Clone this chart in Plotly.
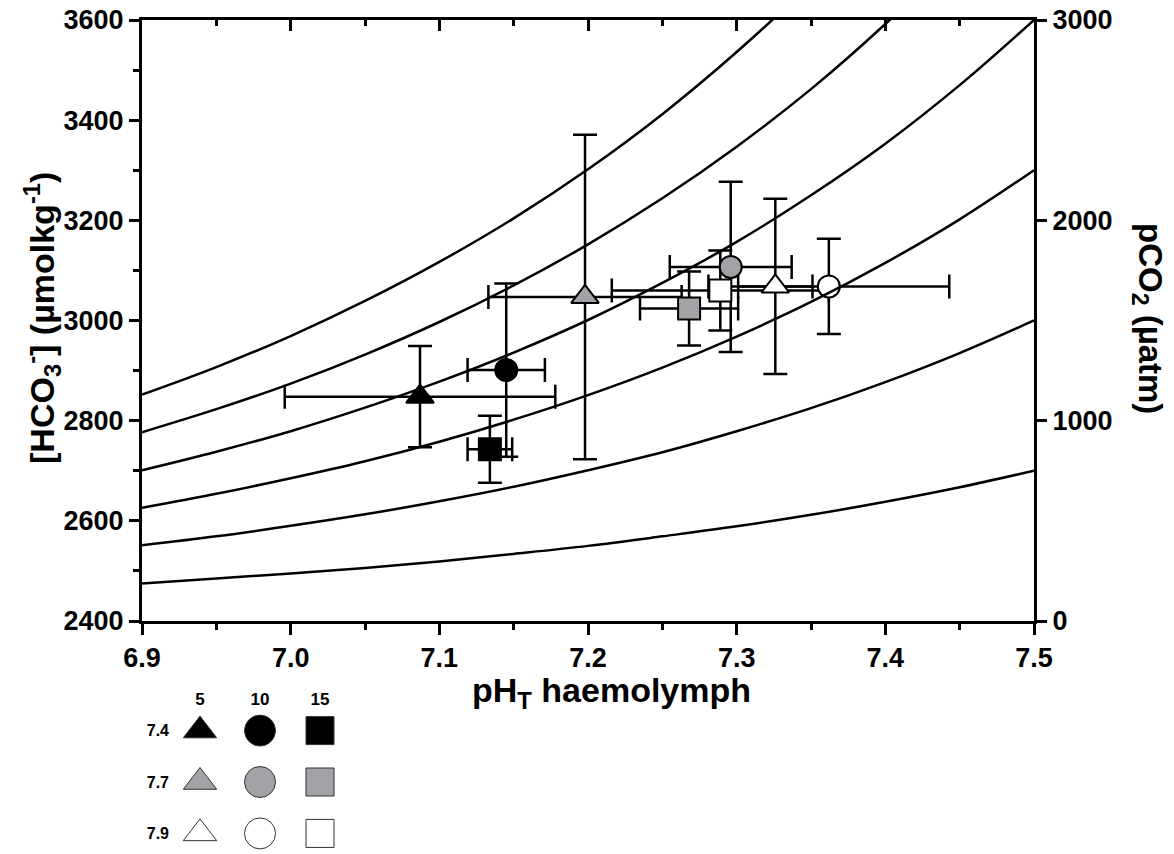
import plotly.graph_objects as go

# ---------------- data ----------------
# pCO2 isopleth curves: [HCO3-] read along the pH axis
curve_ph = [6.90, 6.95, 7.00, 7.05, 7.10, 7.15, 7.20, 7.25, 7.30, 7.35, 7.40, 7.45, 7.50]
curve_1 = [2475, 2485, 2495, 2506, 2519, 2534, 2550, 2569, 2589, 2612, 2638, 2667, 2700]
curve_2 = [2551, 2569, 2590, 2613, 2639, 2668, 2701, 2737, 2779, 2825, 2877, 2935, 3000]
curve_3 = [2626, 2654, 2685, 2719, 2758, 2802, 2851, 2906, 2968, 3037, 3115, 3202, 3300]
curve_4 = [2701, 2738, 2779, 2826, 2878, 2936, 3001, 3075, 3157, 3250, 3353, 3470, 3600]
curve_5 = [2777, 2823, 2874, 2932, 2997, 3070, 3152, 3244, 3347, 3462, 3592, 3737, 3900]
curve_6 = [2852, 2907, 2969, 3039, 3117, 3204, 3302, 3412, 3536, 3674, 3830, 4004, 4200]
curves = [curve_1, curve_2, curve_3, curve_4, curve_5, curve_6]

# treatments (seawater pH) x temperature
treatment_ph = ["7.4", "7.7", "7.9"]
temperature = ["5", "10", "15"]

ph_haem = [[7.087, 7.145, 7.134],
           [7.198, 7.296, 7.268],
           [7.326, 7.362, 7.289]]
ph_err = [[0.091, 0.026, 0.015],
          [0.065, 0.041, 0.033],
          [0.025, 0.081, 0.073]]
hco3 = [[2848, 2901, 2743],
        [3047, 3107, 3024],
        [3068, 3068, 3060]]
hco3_err = [[101, 173, 67],
            [324, 170, 74],
            [175, 95, 80]]

# ---------------- style / layout helpers ----------------
W, H = 1174, 854


def fx(px):
    return min(1.0, max(0.0, px / W))


def fy(py):
    return min(1.0, max(0.0, 1 - py / H))


fill_colors = ["#000000", "#a3a3a7", "#ffffff"]
symbols = ["triangle-up", "circle", "square"]
sizes = [24, 22, 22]
legend_sizes = [29, 31, 28]
FONT = "Liberation Sans, Arial, sans-serif"

# plot area in screen pixels
px_l, px_r, px_t, px_b = 142, 1034, 20, 621
xdom = [fx(px_l), fx(px_r)]
ydom = [fy(px_b), fy(px_t)]

fig = go.Figure()

# isopleths drawn on the (top) x2 axis, which shares the x range
for c in curves:
    fig.add_trace(go.Scatter(x=curve_ph, y=c, mode="lines", xaxis="x2", yaxis="y",
                             line=dict(color="black", width=2.5, shape="spline"),
                             hoverinfo="skip", showlegend=False))

# error bars first (below all markers)
for i in range(len(treatment_ph)):
    fig.add_trace(go.Scatter(
        x=ph_haem[i], y=hco3[i], mode="markers",
        marker=dict(size=2, opacity=0),
        error_x=dict(type="data", array=ph_err[i], color="black", thickness=2.5, width=12),
        error_y=dict(type="data", array=hco3_err[i], color="black", thickness=2.5, width=12),
        hoverinfo="skip", showlegend=False))

for i in range(len(treatment_ph)):
    fig.add_trace(go.Scatter(
        x=ph_haem[i], y=hco3[i], mode="markers",
        marker=dict(symbol=symbols, size=sizes, color=fill_colors[i], opacity=1,
                    line=dict(color="black", width=2)),
        name="pH " + treatment_ph[i], showlegend=False))

# secondary y axis (empty trace so the axis is drawn)
fig.add_trace(go.Scatter(x=[], y=[], xaxis="x", yaxis="y2", showlegend=False))

# legend grid
for i, t in enumerate(treatment_ph):
    fig.add_trace(go.Scatter(
        x=temperature, y=[t] * len(temperature), mode="markers",
        xaxis="x3", yaxis="y3",
        marker=dict(symbol=symbols, size=legend_sizes, color=fill_colors[i], opacity=1,
                    line=dict(color="#333333", width=1)),
        hoverinfo="skip", showlegend=False))

tick_font = dict(family=FONT, size=27, color="black", weight="bold")
title_font = dict(family=FONT, size=34, color="black", weight="bold")
axis_common = dict(showgrid=False, zeroline=False, showline=True, linecolor="black",
                   linewidth=3, tickcolor="black", tickwidth=3, automargin=False,
                   ticklabeloverflow="allow")

fig.update_layout(
    template="none",
    width=W, height=H,
    margin=dict(l=0, r=0, t=0, b=0, autoexpand=False),
    paper_bgcolor="white", plot_bgcolor="white",
    xaxis=dict(domain=xdom, range=[6.9, 7.5], anchor="y", tick0=6.9, dtick=0.1,
               tickformat=".1f", ticks="outside", ticklen=11, tickfont=tick_font,
               minor=dict(dtick=0.05, ticks="outside", ticklen=6, tickwidth=3, tickcolor="black"),
               **axis_common),
    xaxis2=dict(overlaying="x", side="top", anchor="y", range=[6.9, 7.5], tick0=6.9, dtick=0.1,
                ticks="inside", ticklen=11, showticklabels=False,
                minor=dict(dtick=0.05, ticks="inside", ticklen=6, tickwidth=3, tickcolor="black"),
                **axis_common),
    yaxis=dict(domain=ydom, range=[2400, 3600], anchor="x", dtick=200,
               ticks="outside", ticklen=10, tickfont=tick_font,
               minor=dict(dtick=100, ticks="outside", ticklen=6, tickwidth=3, tickcolor="black"),
               **axis_common),
    yaxis2=dict(overlaying="y", side="right", anchor="x", range=[0, 3000], dtick=1000,
                ticks="outside", ticklen=10, tickfont=tick_font, **axis_common),
    xaxis3=dict(domain=[fx(170), fx(350)], anchor="y3", type="category",
                categoryorder="array", categoryarray=temperature, range=[-0.5, 2.5],
                side="top", showline=False, showgrid=False, zeroline=False, ticks="",
                automargin=False,
                tickfont=dict(family=FONT, size=17, color="black", weight="bold")),
    yaxis3=dict(domain=[fy(854), fy(709)], anchor="x3", type="category",
                categoryorder="array", categoryarray=treatment_ph, range=[2.40, -0.42],
                showline=False, showgrid=False, zeroline=False, ticks="",
                automargin=False,
                tickfont=dict(family=FONT, size=16, color="black", weight="bold")),
    annotations=[
        dict(text="pH<sub>T</sub> haemolymph", xref="paper", yref="paper",
             x=fx(611), y=fy(692), xanchor="center", yanchor="middle",
             showarrow=False, font=title_font),
        dict(text="[HCO<sub>3</sub><sup>-</sup>] (µmolkg<sup>-1</sup>)", xref="paper", yref="paper",
             x=fx(42), y=fy(318), xanchor="center", yanchor="middle", textangle=-90,
             showarrow=False, font=title_font),
        dict(text="pCO<sub>2</sub> (µatm)", xref="paper", yref="paper",
             x=fx(1148), y=fy(318), xanchor="center", yanchor="middle", textangle=90,
             showarrow=False, font=dict(family=FONT, size=33, color="black", weight="bold")),
    ],
)

fig.write_html("out.html",
               config=dict(displayModeBar=False),
               post_script="document.body.style.margin='0';document.body.style.overflow='hidden';")
